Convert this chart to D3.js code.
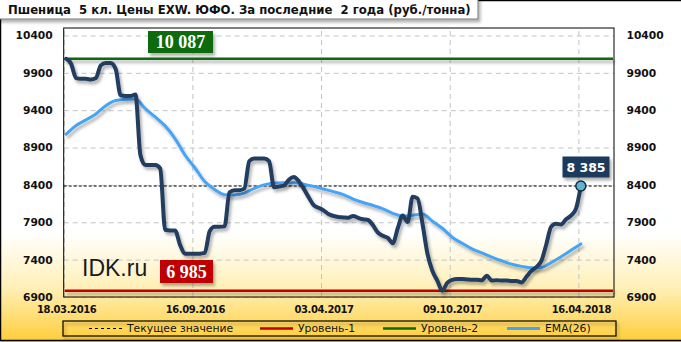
<!DOCTYPE html>
<html>
<head>
<meta charset="utf-8">
<script src="https://cdn.jsdelivr.net/npm/d3@7"></script>
<style>
body { margin: 0; }
</style>
</head>
<body>
<script>
// labels of the category axis and their week index
var dates = ["18.03.2016", "16.09.2016", "03.04.2017", "09.10.2017", "16.04.2018"];
var dateIdx = [0, 26, 52, 78, 104];
var yTicks = [6900, 7400, 7900, 8400, 8900, 9400, 9900, 10400];

// weekly price, rub/t
var price = [10087, 10020, 9830, 9820, 9820, 9810, 9830, 10000, 10030, 10030,
  9950, 9600, 9590, 9590, 9610, 8800, 8665, 8665, 8665, 8620,
  7800, 7790, 7790, 7600, 7480, 7480, 7480, 7480, 7490, 7780,
  7840, 7840, 7845, 8300, 8330, 8330, 8350, 8720, 8755, 8755,
  8755, 8720, 8370, 8380, 8390, 8470, 8505, 8450, 8350, 8235,
  8130, 8095, 8060, 8010, 7985, 7970, 7965, 7960, 7985, 7960,
  7940, 7930, 7860, 7760, 7720, 7690, 7620, 7820, 7990, 7905,
  8240, 8220, 7880, 7480, 7250, 7120, 6985, 7090, 7130, 7140,
  7140, 7135, 7130, 7130, 7125, 7185, 7120, 7125, 7120, 7120,
  7115, 7115, 7095, 7170, 7250, 7300, 7380, 7600, 7840, 7880,
  7870, 7940, 7990, 8080, 8385];

// EMA(26), read every second week
var emaIdx = d3.range(0, 105, 2);
var ema = [9080, 9195, 9270, 9350, 9460, 9530, 9545, 9550, 9420, 9310,
  9190, 9020, 8800, 8630, 8445, 8340, 8270, 8265, 8290, 8355,
  8400, 8425, 8430, 8430, 8410, 8380, 8345, 8310, 8270, 8210,
  8165, 8125, 8080, 8020, 7985, 7995, 8010, 7915, 7820, 7700,
  7620, 7545, 7490, 7435, 7385, 7340, 7310, 7290, 7295, 7360,
  7440, 7525, 7610];

var level1 = 6985, level2 = 10087;
var current = price[price.length - 1];

var W = 681, H = 342;
var x0 = 63.7, x1 = 614, yTop = 28, yBot = 297;
var SANS = "'DejaVu Sans', Verdana, sans-serif";

var fmt = function(v) { return d3.format(",")(v).replace(/,/g, " "); };

var x = d3.scaleLinear().domain([0, 111.2]).range([x0, x1]);
var y = d3.scaleLinear().domain([6900, 10500]).range([yBot, yTop]);

var svg = d3.select("body").append("svg")
  .attr("width", W).attr("height", H)
  .attr("font-family", SANS);

var defs = svg.append("defs");
var grad = defs.append("linearGradient").attr("id", "bg")
  .attr("x1", 0).attr("y1", 0).attr("x2", 0).attr("y2", 1);
grad.append("stop").attr("offset", "0.68").attr("stop-color", "#ffffff");
grad.append("stop").attr("offset", "0.84").attr("stop-color", "#fff0b8");
grad.append("stop").attr("offset", "1").attr("stop-color", "#ffcd38");

// user space region so that flat lines keep their shadow
var sh = defs.append("filter").attr("id", "shadow")
  .attr("filterUnits", "userSpaceOnUse")
  .attr("x", -10).attr("y", -10).attr("width", W + 20).attr("height", H + 20);
sh.append("feDropShadow").attr("dx", 2).attr("dy", 3).attr("stdDeviation", 1.5)
  .attr("flood-color", "#000").attr("flood-opacity", 0.3);

svg.append("rect").attr("width", W).attr("height", H).attr("fill", "url(#bg)");
svg.append("rect").attr("x", 0.5).attr("y", 0.5).attr("width", W + 5).attr("height", H - 2)
  .attr("fill", "none").attr("stroke", "#000").attr("stroke-width", 1.5);

// grid
var gy = svg.append("g").attr("transform", "translate(" + x0 + ",0)")
  .call(d3.axisLeft(y).tickValues(yTicks).tickSize(-(x1 - x0)).tickFormat(""));
var gx = svg.append("g").attr("transform", "translate(0," + yBot + ")")
  .call(d3.axisBottom(x).tickValues(dateIdx).tickSize(-(yBot - yTop)).tickFormat(""));
[gy, gx].forEach(function(g) {
  g.select(".domain").remove();
  g.selectAll("line").attr("stroke", "#c4c4c4").attr("stroke-dasharray", "5,4");
});

// axis labels
var yl = svg.append("g").attr("transform", "translate(" + x0 + ",0)")
  .call(d3.axisLeft(y).tickValues(yTicks).tickFormat(d3.format("d")).tickSize(0).tickPadding(11));
var yr = svg.append("g").attr("transform", "translate(" + x1 + ",0)")
  .call(d3.axisRight(y).tickValues(yTicks).tickFormat(d3.format("d")).tickSize(0).tickPadding(12.5));
var xl = svg.append("g").attr("transform", "translate(0," + yBot + ")")
  .call(d3.axisBottom(x).tickValues(dateIdx.map(function(i) { return i + 0.5; }))
    .tickFormat(function(d, k) { return dates[k]; }).tickSize(0).tickPadding(9));
[yl, yr, xl].forEach(function(g) {
  g.attr("font-family", SANS);
  g.select(".domain").remove();
  g.selectAll("text").attr("fill", "#111").attr("font-weight", "bold");
});
yl.attr("font-size", 10.7);
yr.attr("font-size", 10.7);
xl.attr("font-size", 10);
xl.selectAll("text").attr("letter-spacing", "-0.4px");

// watermark
svg.append("text").attr("x", 82).attr("y", 276)
  .attr("font-family", "'Liberation Sans', Arial, sans-serif")
  .attr("font-size", 23).attr("fill", "#1a1a1a").text("IDK.ru");

// current value line
svg.append("line").attr("x1", x0).attr("x2", x1)
  .attr("y1", y(current)).attr("y2", y(current))
  .attr("stroke", "#000").attr("stroke-dasharray", "3,2");

// levels
var levels = [{v: level2, c: "#0b6a0b"}, {v: level1, c: "#c00000"}];
svg.selectAll(".lvl").data(levels).enter().append("line")
  .attr("class", "lvl")
  .attr("x1", x0 + 1).attr("x2", x1 - 1)
  .attr("y1", function(d) { return y(d.v); }).attr("y2", function(d) { return y(d.v); })
  .attr("stroke", function(d) { return d.c; }).attr("stroke-width", 2.5)
  .attr("filter", "url(#shadow)");

// EMA
var emaLine = d3.line()
  .x(function(d, k) { return x(emaIdx[k] + 0.5); })
  .y(function(d) { return y(d); })
  .curve(d3.curveMonotoneX);
svg.append("path").datum(ema).attr("d", emaLine)
  .attr("fill", "none").attr("stroke", "#45a4f5").attr("stroke-width", 3)
  .attr("stroke-linecap", "round").attr("filter", "url(#shadow)");

// price
var priceLine = d3.line()
  .x(function(d, i) { return x(i + 0.5); })
  .y(function(d) { return y(d); })
  .curve(d3.curveMonotoneX);
svg.append("path").datum(price).attr("d", priceLine)
  .attr("fill", "none").attr("stroke", "#213d5e").attr("stroke-width", 4)
  .attr("stroke-linejoin", "round").attr("stroke-linecap", "round")
  .attr("filter", "url(#shadow)");

// plot border
svg.append("rect").attr("x", x0).attr("y", yTop)
  .attr("width", x1 - x0).attr("height", yBot - yTop)
  .attr("fill", "none").attr("stroke", "#000").attr("stroke-width", 1);

// last point marker
var lastI = price.length - 1;
svg.append("circle").attr("cx", x(lastI + 0.5)).attr("cy", y(current)).attr("r", 5)
  .attr("fill", "#5fb4d6").attr("stroke", "#1a2a3a").attr("stroke-width", 1.5);

// value boxes
function valueBox(cx, cyTop, w, h, fill, txt, serif, size) {
  svg.append("rect").attr("x", cx - w / 2).attr("y", cyTop).attr("width", w).attr("height", h)
    .attr("fill", fill).attr("filter", "url(#shadow)");
  svg.append("text").attr("x", cx).attr("y", cyTop + h / 2).attr("dy", "0.36em")
    .attr("text-anchor", "middle").attr("fill", "#fff").attr("font-weight", "bold")
    .attr("font-size", size)
    .attr("font-family", serif ? "'Liberation Serif', 'Times New Roman', serif" : SANS)
    .text(txt);
}
valueBox(180.5, 31, 65, 22, "#0b6a0b", fmt(level2), true, 18);
valueBox(186.5, 260, 53, 23, "#c00000", fmt(level1), true, 18);
valueBox(586, 156.5, 47, 21, "#1d3a5c", fmt(current), false, 12.5);

// title
var title = "Пшеница  5 кл. Цены EXW. ЮФО. За последние  2 года (руб./тонна)";
svg.append("rect").attr("x", -2).attr("y", -2).attr("width", 480).attr("height", 21)
  .attr("fill", "#fff").attr("stroke", "#777").attr("filter", "url(#shadow)");
svg.append("text").attr("x", 8).attr("y", 13.5).style("white-space", "pre")
  .attr("font-size", 11.7).attr("font-weight", "bold").attr("fill", "#111").text(title);

// legend
var legend = [
  {t: "Текущее значение", c: "#000", dash: "3,3", w: 1, sx: 89, tx: 127},
  {t: "Уровень-1", c: "#c00000", dash: null, w: 2.5, sx: 260, tx: 298},
  {t: "Уровень-2", c: "#0b6a0b", dash: null, w: 2.5, sx: 383, tx: 421},
  {t: "EMA(26)", c: "#45a4f5", dash: null, w: 3, sx: 507, tx: 545}
];
svg.append("rect").attr("x", 63).attr("y", 321).attr("width", 553).attr("height", 15)
  .attr("fill", "none").attr("stroke", "#000").attr("stroke-width", 1.2)
  .attr("filter", "url(#shadow)");
var li = svg.selectAll(".leg").data(legend).enter().append("g").attr("class", "leg");
li.append("line").attr("x1", function(d) { return d.sx; }).attr("x2", function(d) { return d.sx + 33; })
  .attr("y1", 328.5).attr("y2", 328.5)
  .attr("stroke", function(d) { return d.c; }).attr("stroke-width", function(d) { return d.w; })
  .attr("stroke-dasharray", function(d) { return d.dash; });
li.append("text").attr("x", function(d) { return d.tx; }).attr("y", 328.5).attr("dy", "0.35em")
  .attr("font-size", 10.8).attr("fill", "#111").text(function(d) { return d.t; });
</script>
</body>
</html>
